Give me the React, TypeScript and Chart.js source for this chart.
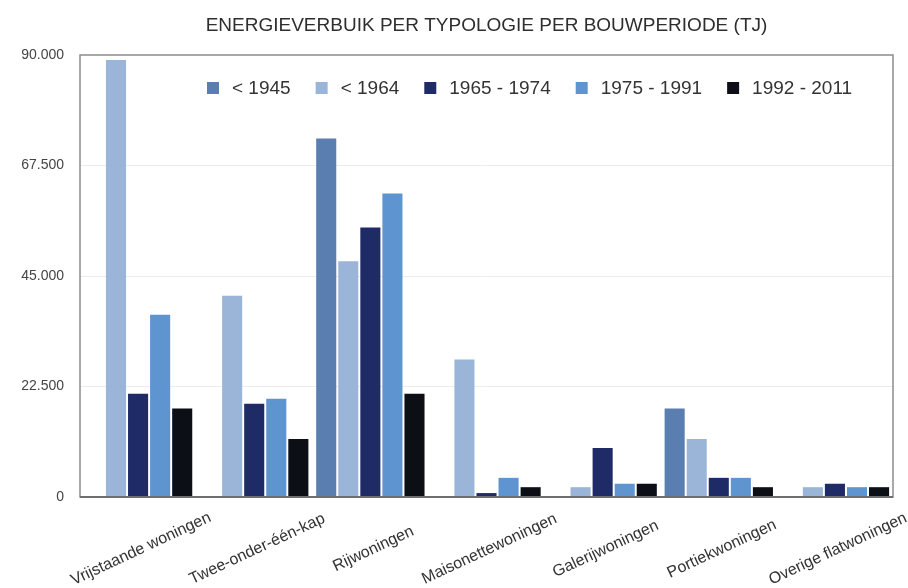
import React, { useEffect, useRef } from 'react';
import { Chart, registerables } from 'chart.js';

Chart.register(...registerables);

const categories = [
  'Vrijstaande woningen',
  'Twee-onder-één-kap',
  'Rijwoningen',
  'Maisonettewoningen',
  'Galerijwoningen',
  'Portiekwoningen',
  'Overige flatwoningen',
];
const seriesLabels = ['< 1945', '< 1964', '1965 - 1974', '1975 - 1991', '1992 - 2011'];
const seriesColors = ['#5b7eb1', '#9bb5d9', '#1f2b66', '#5e94cf', '#0d0f16'];
const before1945 = [0, 0, 73000, 0, 0, 18000, 0];
const before1964 = [89000, 41000, 48000, 28000, 2000, 11800, 2000];
const period1965to1974 = [21000, 19000, 54900, 800, 10000, 3900, 2700];
const period1975to1991 = [37100, 20000, 61800, 3900, 2700, 3900, 2000];
const period1992to2011 = [18000, 11800, 21000, 2000, 2700, 2000, 2000];
const yTicks = [0, 22500, 45000, 67500, 90000];
const title = 'ENERGIEVERBUIK PER TYPOLOGIE PER BOUWPERIODE (TJ)';

const FONT = '"Liberation Sans", Arial, Helvetica, sans-serif';

function formatNL(v: number): string {
  return String(Math.round(v)).replace(/\B(?=(\d{3})+(?!\d))/g, '.');
}

const decorPlugin = {
  id: 'decor',
  afterDraw(chart: any) {
    const { ctx, chartArea: a, scales } = chart;
    ctx.save();
    // frame
    ctx.strokeStyle = '#8c8c8c';
    ctx.lineWidth = 1.5;
    ctx.strokeRect(a.left, a.top, a.right - a.left, a.bottom - a.top);
    ctx.strokeStyle = '#6e6e6e';
    ctx.lineWidth = 2;
    ctx.beginPath();
    ctx.moveTo(a.left, a.bottom);
    ctx.lineTo(a.right, a.bottom);
    ctx.stroke();

    // title centred over the plot area
    ctx.font = '19px ' + FONT;
    ctx.fillStyle = '#2e2e2e';
    ctx.textAlign = 'center';
    ctx.textBaseline = 'middle';
    ctx.fillText(title, (a.left + a.right) / 2, 26);

    // legend inside plot area
    ctx.textAlign = 'left';
    let lx = a.left + 127;
    const ly = a.top + 33;
    chart.data.datasets.forEach((ds: any) => {
      ctx.fillStyle = ds.backgroundColor;
      ctx.fillRect(lx, ly - 6, 12, 12);
      lx += 25;
      ctx.fillStyle = '#333333';
      ctx.fillText(ds.label, lx, ly + 1);
      lx += ctx.measureText(ds.label).width + 25;
    });

    // rotated category labels, centred on each category
    const xs = scales.x;
    ctx.font = '16px ' + FONT;
    ctx.fillStyle = '#333333';
    ctx.textAlign = 'center';
    ctx.textBaseline = 'middle';
    chart.data.labels.forEach((lab: string, i: number) => {
      const px = xs.getPixelForValue(i);
      ctx.save();
      ctx.translate(px + 3, a.bottom + 52);
      ctx.rotate((-25 * Math.PI) / 180);
      ctx.fillText(lab, 0, 0);
      ctx.restore();
    });
    ctx.restore();
  },
};

export default function App() {
  const canvasRef = useRef<HTMLCanvasElement | null>(null);

  useEffect(() => {
    if (!canvasRef.current) return;
    const seriesData = [before1945, before1964, period1965to1974, period1975to1991, period1992to2011];
    const chart = new Chart(canvasRef.current, {
      type: 'bar',
      data: {
        labels: categories,
        datasets: seriesLabels.map((label, i) => ({
          label,
          data: seriesData[i],
          backgroundColor: seriesColors[i],
          borderWidth: 0,
          categoryPercentage: 0.95,
          barPercentage: 0.91,
        })),
      },
      options: {
        animation: false,
        responsive: true,
        maintainAspectRatio: false,
        layout: { padding: { left: 0, right: 15, top: 55, bottom: 91 } },
        plugins: {
          legend: { display: false },
          tooltip: { enabled: false },
          title: { display: false },
        },
        scales: {
          x: {
            display: false,
            grid: { display: false },
          },
          y: {
            min: 0,
            max: 90000,
            afterFit: (scale: any) => {
              scale.width = 80;
            },
            afterBuildTicks: (scale: any) => {
              scale.ticks = yTicks.map((v) => ({ value: v }));
            },
            border: { display: false },
            grid: {
              drawTicks: false,
              color: (c: any) =>
                c.tick && (c.tick.value === 0 || c.tick.value === 90000) ? 'rgba(0,0,0,0)' : '#ececec',
              lineWidth: 1,
            },
            ticks: {
              padding: 16,
              color: '#444444',
              font: { family: FONT, size: 14 },
              callback: (v: any) => formatNL(Number(v)),
            },
          },
        },
      },
      plugins: [decorPlugin],
    });
    return () => chart.destroy();
  }, []);

  return (
    <div style={{ position: 'fixed', left: 0, top: 0, width: 908, height: 588, background: '#ffffff' }}>
      <canvas ref={canvasRef} />
    </div>
  );
}
